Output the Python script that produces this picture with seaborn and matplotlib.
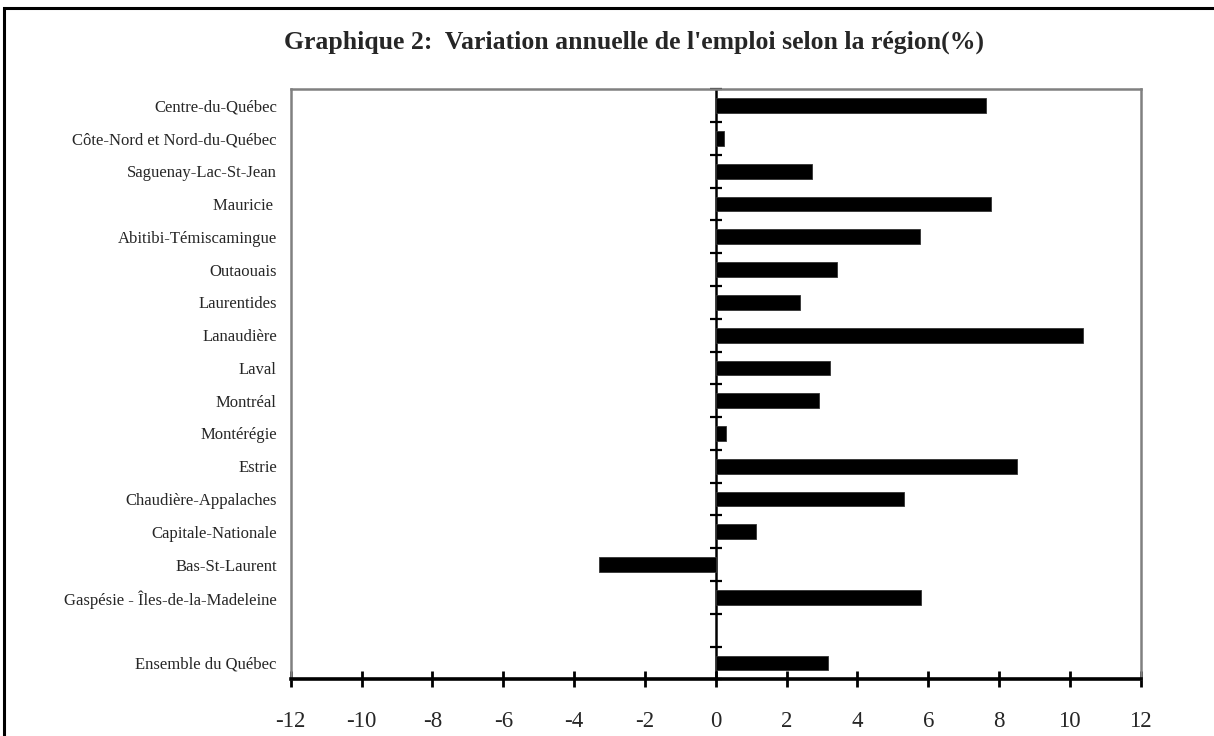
import numpy as np
import pandas as pd
import seaborn as sns
import matplotlib
matplotlib.use("Agg")
import matplotlib.pyplot as plt
from matplotlib.patches import Rectangle
from matplotlib.ticker import FixedLocator

regions = ["Centre-du-Québec", "Côte-Nord et Nord-du-Québec", "Saguenay-Lac-St-Jean",
           "Mauricie ", "Abitibi-Témiscamingue", "Outaouais", "Laurentides",
           "Lanaudière", "Laval", "Montréal", "Montérégie", "Estrie",
           "Chaudière-Appalaches", "Capitale-Nationale", "Bas-St-Laurent",
           "Gaspésie - Îles-de-la-Madeleine", "", "Ensemble du Québec"]
variation = [7.63, 0.23, 2.73, 7.77, 5.76, 3.42, 2.38, 10.36, 3.23, 2.91,
             0.28, 8.51, 5.32, 1.13, -3.29, 5.79, np.nan, 3.17]
x_ticks = list(range(-12, 13, 2))
title = "Graphique 2:  Variation annuelle de l'emploi selon la région(%)"

sns.set_style("white")
plt.rcParams["font.family"] = ["Liberation Serif", "DejaVu Serif"]
plt.rcParams["axes.unicode_minus"] = False

df = pd.DataFrame({"region": regions, "variation": variation})
df_bars = df.dropna()

fig = plt.figure(figsize=(12.14, 7.36), dpi=100)
ax = fig.add_axes([0.2395, 0.0770, 0.7001, 0.8017])

sns.barplot(data=df_bars, y="region", x="variation", order=regions, orient="h",
            color="black", width=0.45, edgecolor="#333333", linewidth=0.6,
            saturation=1, ax=ax)

ax.set_xlim(x_ticks[0], x_ticks[-1])
ax.set_xticks(x_ticks)
ax.set_xlabel("")
ax.set_ylabel("")

for side in ["top", "left", "right"]:
    ax.spines[side].set_color("#808080")
    ax.spines[side].set_linewidth(1.8)
ax.spines["bottom"].set_color("black")
ax.spines["bottom"].set_linewidth(2.6)

ax.tick_params(axis="x", direction="inout", length=11, width=2, color="black",
               labelsize=16.5, pad=17, bottom=True)
ax.tick_params(axis="y", length=0, labelsize=12, pad=10)

# vertical axis at zero with cross ticks between categories
zero_ax = ax.secondary_yaxis(0.5)
zero_ax.spines["right"].set_color("black")
zero_ax.spines["right"].set_linewidth(1.8)
zero_ax.yaxis.set_major_locator(FixedLocator(np.arange(len(regions) + 1) - 0.5))
zero_ax.tick_params(direction="inout", length=9, width=1.6, color="black",
                    labelright=False, labelleft=False)

fig.text(0.522, 0.943, title, ha="center", va="center", fontsize=18.5,
         fontweight="bold")

fig.patches.append(Rectangle((4 / 1214, -0.05), 1.1, 1.0398, transform=fig.transFigure,
                             fill=False, edgecolor="black", linewidth=2.2))

fig.savefig("out.png", dpi=100)
